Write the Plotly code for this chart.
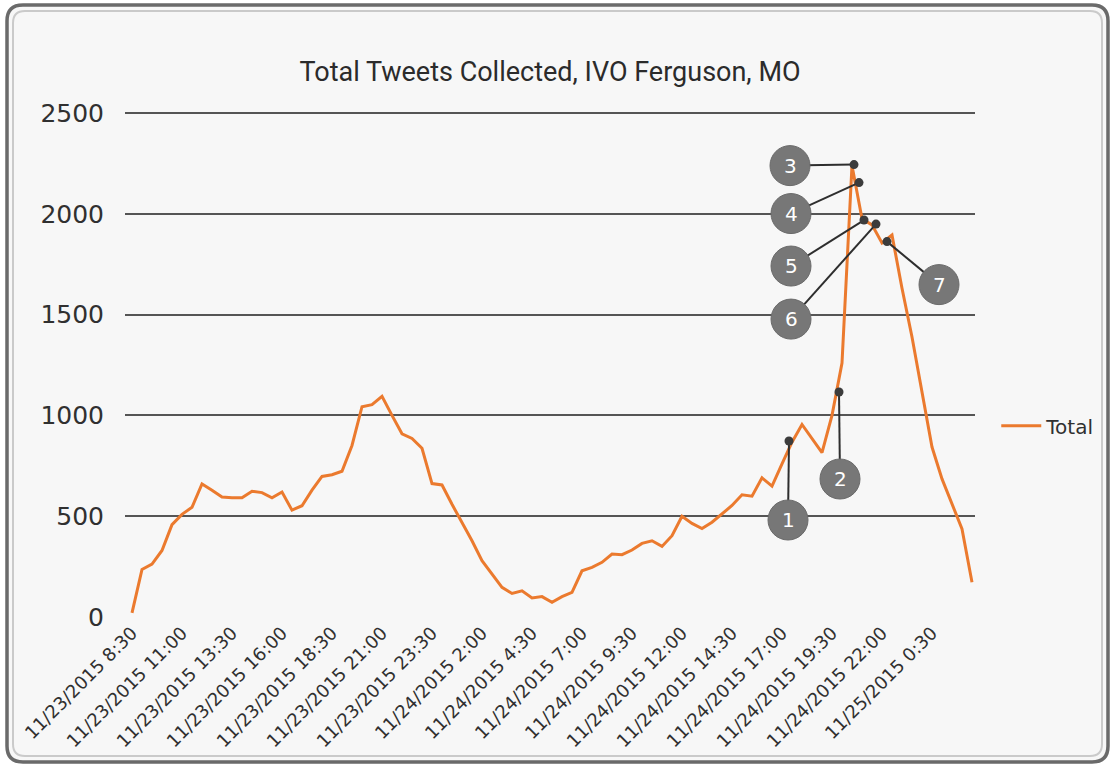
import plotly.graph_objects as go

# ---------------------------------------------------------------- data
TICK_LABELS = [
    '11/23/2015 8:30', '11/23/2015 11:00', '11/23/2015 13:30', '11/23/2015 16:00',
    '11/23/2015 18:30', '11/23/2015 21:00', '11/23/2015 23:30', '11/24/2015 2:00',
    '11/24/2015 4:30', '11/24/2015 7:00', '11/24/2015 9:30', '11/24/2015 12:00',
    '11/24/2015 14:30', '11/24/2015 17:00', '11/24/2015 19:30', '11/24/2015 22:00',
    '11/25/2015 0:30',
]

# half-hour tweet counts, 11/23 8:30 -> 11/25 2:30
TOTAL = [
    20, 236, 262, 330, 458, 509, 544, 660, 629, 595,
    591, 591, 624, 617, 591, 620, 530, 552, 629, 697,
    706, 723, 851, 1043, 1053, 1095, 1000, 909, 886, 837,
    662, 655, 559, 469, 378, 279, 213, 147, 117, 130,
    94, 101, 73, 101, 122, 229, 246, 271, 312, 309,
    332, 365, 378, 350, 403, 500, 464, 439, 470, 512,
    553, 606, 599, 690, 649, 760, 867, 955, 884, 815,
    1000, 1260, 2240, 1975, 1945, 1855, 1895, 1631, 1389, 1124,
    843, 685, 561, 437, 172,
]

CALLOUT_LABELS = ['1', '2', '3', '4', '5', '6', '7']
CALLOUT_X = [65.7, 70.7, 72.2, 72.7, 73.2, 74.4, 75.5]
CALLOUT_Y = [873, 1116, 2244, 2155, 1969, 1949, 1862]

# ---------------------------------------------------------------- layout constants
W, H = 1114, 767
L, R, T, B = 125, 139, 112, 149
ORANGE = '#EB7A2E'
BG = '#f7f7f7'
FONT = 'DejaVu Sans'

# pixel offsets of each badge from its callout point (x right, y up)
BADGE_DX = [-1, 1, -64, -68, -73, -85, 52]
BADGE_DY = [-79, -87, -1, -31, -46, -95, -43]
BADGE_R = 20


def px_to_paper(px, py):
    return (px - L) / (W - L - R), (H - B - py) / (H - T - B)


def rounded_path(x0, y0, x1, y1, r):
    pts = [
        ('M', [(x0 + r, y0)]), ('L', [(x1 - r, y0)]), ('Q', [(x1, y0), (x1, y0 + r)]),
        ('L', [(x1, y1 - r)]), ('Q', [(x1, y1), (x1 - r, y1)]), ('L', [(x0 + r, y1)]),
        ('Q', [(x0, y1), (x0, y1 - r)]), ('L', [(x0, y0 + r)]), ('Q', [(x0, y0), (x0 + r, y0)]),
    ]
    out = []
    for cmd, coords in pts:
        parts = []
        for cx, cy in coords:
            a, b = px_to_paper(cx, cy)
            parts.append('{:.5f},{:.5f}'.format(a, b))
        out.append(cmd + ' '.join(parts))
    return ' '.join(out) + ' Z'


fig = go.Figure()
fig.add_trace(go.Scatter(
    x=list(range(len(TOTAL))), y=TOTAL, name='Total', mode='lines',
    line=dict(color=ORANGE, width=3), hoverinfo='skip',
))

shapes = []
### Frame around the whole chart
shapes.append(dict(type='path', xref='paper', yref='paper', layer='below',
                   path=rounded_path(7, 5, 1108, 762, 16),
                   fillcolor=BG, line=dict(color='#6a6a6a', width=3.5)))
shapes.append(dict(type='path', xref='paper', yref='paper', layer='below',
                   path=rounded_path(13, 11, 1102, 756, 12),
                   fillcolor='rgba(0,0,0,0)', line=dict(color='#cacaca', width=2)))

### Callout leaders, badges and dots
annotations = []
for lab, cx, cy, dx, dy in zip(CALLOUT_LABELS, CALLOUT_X, CALLOUT_Y, BADGE_DX, BADGE_DY):
    shapes.append(dict(type='line', xref='x', yref='y', layer='above',
                       xsizemode='pixel', ysizemode='pixel', xanchor=cx, yanchor=cy,
                       x0=0, x1=dx, y0=0, y1=dy, line=dict(color='#2e2e2e', width=2)))
    shapes.append(dict(type='circle', xref='x', yref='y', layer='above',
                       xsizemode='pixel', ysizemode='pixel', xanchor=cx, yanchor=cy,
                       x0=dx - BADGE_R, x1=dx + BADGE_R, y0=dy - BADGE_R, y1=dy + BADGE_R,
                       fillcolor='#777777', line=dict(color='#6a6a6a', width=1)))
    shapes.append(dict(type='circle', xref='x', yref='y', layer='above',
                       xsizemode='pixel', ysizemode='pixel', xanchor=cx, yanchor=cy,
                       x0=-4.5, x1=4.5, y0=-4.5, y1=4.5,
                       fillcolor='#3c3c3c', line=dict(width=0)))
    annotations.append(dict(x=cx, y=cy, xref='x', yref='y', text=lab, showarrow=False,
                            xshift=dx, yshift=dy, font=dict(family=FONT, size=20, color='white')))

fig.update_layout(
    width=W, height=H,
    margin=dict(l=L, r=R, t=T, b=B),
    paper_bgcolor='white', plot_bgcolor='rgba(0,0,0,0)',
    title=dict(text='Total Tweets Collected, IVO Ferguson, MO', x=0.5, xref='paper',
               y=1 - 72 / H, yanchor='middle',
               font=dict(family='Liberation Sans Narrow, Roboto', size=27, color='#2b2b2b')),
    xaxis=dict(range=[-0.7, 84.3], tickvals=list(range(0, len(TOTAL), 5)), ticktext=TICK_LABELS,
               tickangle=-45, showgrid=False, zeroline=False, showline=False, ticks='',
               tickfont=dict(family=FONT, size=18, color='#303030')),
    yaxis=dict(range=[-5, 2505], tickvals=[0, 500, 1000, 1500, 2000, 2500],
               showgrid=True, gridcolor='#555555', gridwidth=1.5,
               zeroline=True, zerolinecolor=BG, zerolinewidth=2,
               showline=False, ticks='', ticklabelstandoff=20,
               tickfont=dict(family=FONT, size=25, color='#303030')),
    legend=dict(x=1.025, y=0.38, yanchor='middle', xanchor='left', bgcolor='rgba(0,0,0,0)',
                itemwidth=40, font=dict(family=FONT, size=20, color='#303030')),
    showlegend=True,
    shapes=shapes, annotations=annotations,
)

### Drop the default page margin so the figure sits at the window origin
fig.write_html('out.html', config={'displayModeBar': False},
               post_script="document.body.style.margin='0';")
